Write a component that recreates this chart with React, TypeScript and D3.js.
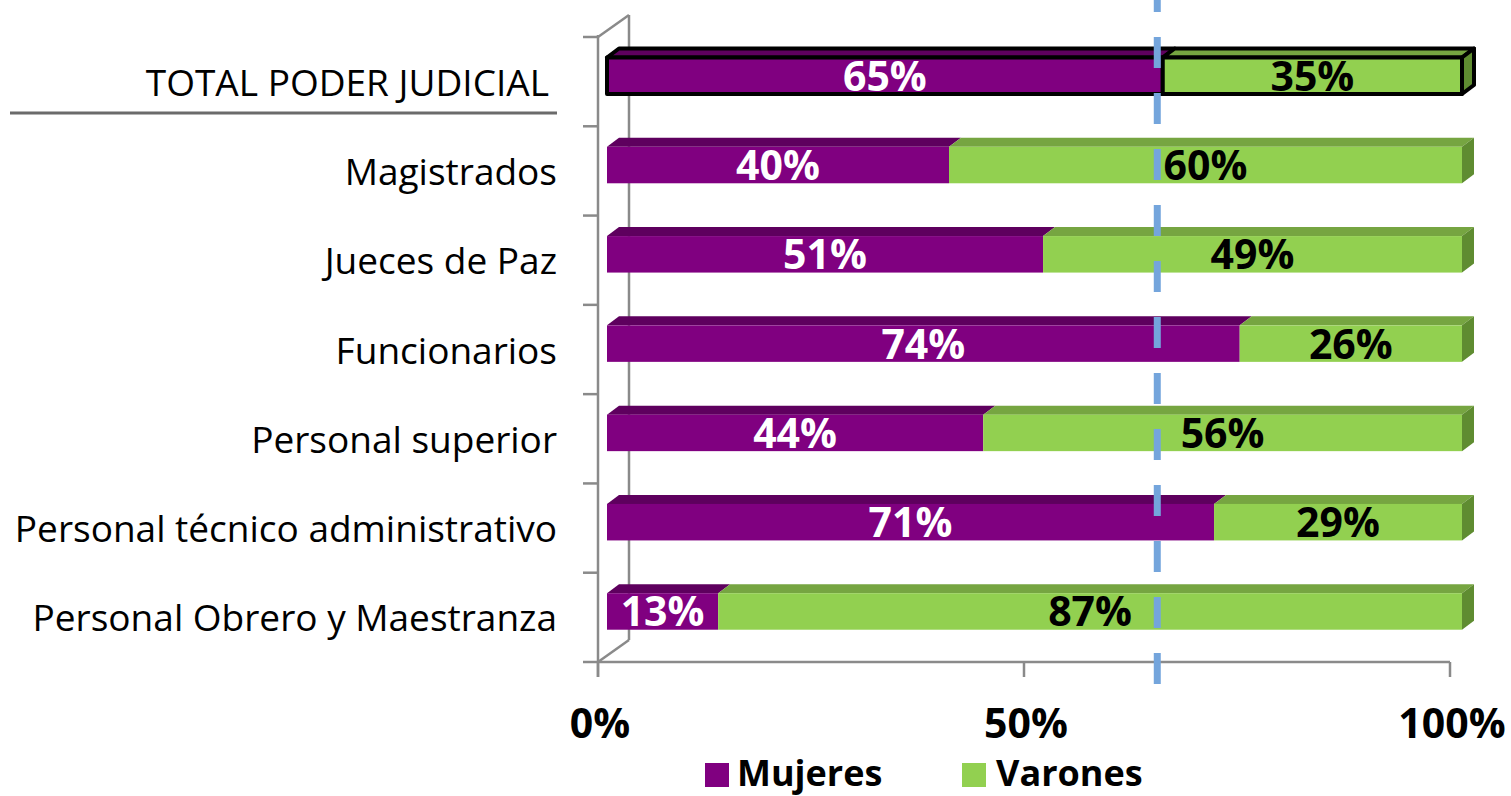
import React from "react";
import * as d3 from "d3";

const categories = [
  "TOTAL PODER JUDICIAL",
  "Magistrados",
  "Jueces de Paz",
  "Funcionarios",
  "Personal superior",
  "Personal técnico administrativo",
  "Personal Obrero y Maestranza",
];
const mujeres = [65, 40, 51, 74, 44, 71, 13];
const varones = [35, 60, 49, 26, 56, 29, 87];
const xTicks = [0, 50, 100];
const referenceValue = 65;
const seriesNames = ["Mujeres", "Varones"];

const FONT = "'Open Sans', Lato, sans-serif";
const PURPLE = "#800080";
const PURPLE_TOP = "#5e005e";
const GREEN = "#92d050";
const GREEN_TOP = "#76a541";
const GREEN_SIDE = "#5f8c31";
const AXIS = "#8a8a8a";

export default function App() {
  const W = 1511;
  const H = 796;
  // floor/front axis
  const xAxis = d3.scaleLinear().domain([0, 100]).range([598, 1450]);
  // bar plane (slightly deeper)
  const xBar = d3.scaleLinear().domain([0, 100]).range([607, 1462]);
  const y = d3.scaleBand<string>().domain(categories).range([37, 662]).paddingInner(0).paddingOuter(0);
  const depthX = 31;
  const depthY = -22;
  const barDX = 12;
  const barDY = -9;
  const faceOffset = 20.5;
  const faceH = 36.5;
  const axisBottom = 662;

  const bars = categories.map((c, i) => {
    const top = (y(c) as number) + faceOffset;
    const bottom = top + faceH;
    const segs = [
      { v0: 0, v1: mujeres[i], fill: PURPLE, topFill: PURPLE_TOP, text: "#ffffff", label: mujeres[i] },
      { v0: mujeres[i], v1: mujeres[i] + varones[i], fill: GREEN, topFill: GREEN_TOP, text: "#000000", label: varones[i] },
    ];
    return { c, i, top, bottom, segs };
  });

  const refX = (xAxis(referenceValue) + xBar(referenceValue)) / 2;

  return (
    <svg width={W} height={H} style={{ position: "absolute", left: 0, top: 0, background: "#fff" }}>
      {/* back wall + depth lines */}
      <line x1={598 + depthX} y1={37 + depthY} x2={598 + depthX} y2={axisBottom + depthY} stroke={AXIS} strokeWidth={2.5} />
      <line x1={598} y1={37} x2={598 + depthX} y2={37 + depthY} stroke={AXIS} strokeWidth={2.5} />
      <line x1={598} y1={axisBottom} x2={598 + depthX} y2={axisBottom + depthY} stroke={AXIS} strokeWidth={2.5} />
      {/* front vertical axis */}
      <line x1={598} y1={35} x2={598} y2={677} stroke={AXIS} strokeWidth={2.5} />
      {/* category ticks */}
      {d3.range(categories.length + 1).map((k) => {
        const yy = 37 + k * y.bandwidth();
        return <line key={"ct" + k} x1={583} x2={598} y1={yy} y2={yy} stroke={AXIS} strokeWidth={2.5} />;
      })}
      {/* horizontal axis */}
      <line x1={598} y1={axisBottom} x2={xAxis(100)} y2={axisBottom} stroke={AXIS} strokeWidth={2.5} />
      {xTicks.map((t) => (
        <line key={"xt" + t} x1={xAxis(t)} x2={xAxis(t)} y1={axisBottom} y2={677} stroke={AXIS} strokeWidth={2.5} />
      ))}
      {xTicks.map((t) => (
        <text key={"xl" + t} x={xAxis(t) + 2} y={738} textAnchor="middle" fontFamily={FONT} fontWeight={700} fontSize={41} fill="#000">
          {t}%
        </text>
      ))}

      {/* bars */}
      {bars.map((b) => {
        const isTotal = b.i === 0;
        const last = b.segs[b.segs.length - 1];
        const xr = xBar(last.v1);
        const strokeProps = isTotal ? { stroke: "#000", strokeWidth: 4, strokeLinejoin: "round" as const } : {};
        return (
          <g key={b.c}>
            {b.segs.map((s, k) => {
              const x0 = xBar(s.v0);
              const x1 = xBar(s.v1);
              const pts = [
                [x0, b.top],
                [x1, b.top],
                [x1 + barDX, b.top + barDY],
                [x0 + barDX, b.top + barDY],
              ];
              return <polygon key={"t" + k} points={pts.map((p) => p.join(",")).join(" ")} fill={s.topFill} {...strokeProps} />;
            })}
            <polygon
              points={[
                [xr, b.top],
                [xr + barDX, b.top + barDY],
                [xr + barDX, b.bottom + barDY],
                [xr, b.bottom],
              ]
                .map((p) => p.join(","))
                .join(" ")}
              fill={GREEN_SIDE}
              {...strokeProps}
            />
            {b.segs.map((s, k) => {
              const x0 = xBar(s.v0);
              const x1 = xBar(s.v1);
              return <rect key={"f" + k} x={x0} y={b.top} width={x1 - x0} height={faceH} fill={s.fill} {...strokeProps} />;
            })}
          </g>
        );
      })}

      {/* reference dashed line */}
      <line x1={refX} x2={refX} y1={-19} y2={684} stroke="#74a5dc" strokeWidth={7} strokeDasharray="31 25" />

      {/* data labels */}
      {bars.map((b) =>
        b.segs.map((s, k) => (
          <text
            key={b.c + "l" + k}
            x={(xBar(s.v0) + xBar(s.v1)) / 2}
            y={b.top + faceH / 2 + 15}
            textAnchor="middle"
            fontFamily={FONT}
            fontWeight={700}
            fontSize={41}
            fill={s.text}
          >
            {s.label}%
          </text>
        ))
      )}

      {/* category labels */}
      {categories.map((c, i) => (
        <text
          key={"cl" + c}
          x={i === 0 ? 549 : 557}
          y={(y(c) as number) + y.bandwidth() / 2 + 14}
          textAnchor="end"
          fontFamily={FONT}
          fontSize={37}
          fill="#000"
        >
          {c}
        </text>
      ))}
      <line x1={10} x2={557} y1={113} y2={113} stroke="#6b6b6b" strokeWidth={3} />

      {/* legend */}
      <rect x={705} y={763} width={24} height={24} fill={PURPLE} />
      <text x={737} y={786} fontFamily={FONT} fontWeight={700} fontSize={36} fill="#000">{seriesNames[0]}</text>
      <rect x={962} y={763} width={24} height={24} fill={GREEN} />
      <text x={996} y={786} fontFamily={FONT} fontWeight={700} fontSize={36} fill="#000">{seriesNames[1]}</text>
    </svg>
  );
}
